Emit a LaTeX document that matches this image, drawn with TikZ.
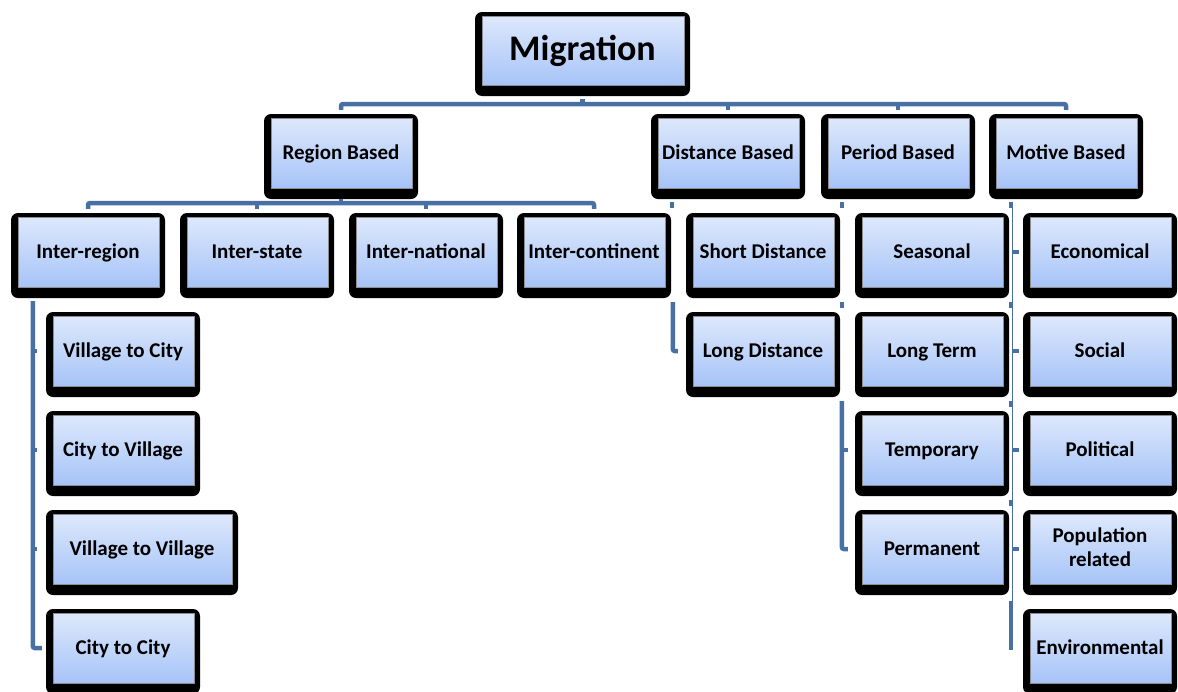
\documentclass[tikz,border=0pt]{standalone}
\usepackage{fontspec}
\newfontfamily\calfont{Carlito}
\usetikzlibrary{calc}
\definecolor{boxtop}{RGB}{224,234,252}
\definecolor{boxbot}{RGB}{158,190,247}
\definecolor{boxedge}{RGB}{140,140,145}
\definecolor{connc}{RGB}{72,112,163}
\tikzset{
  mbox/.style={rounded corners=7pt, fill=black, minimum width=154pt, minimum height=85pt,
    inner sep=0pt, align=center, text height=13.3pt, text depth=8pt,
    font=\calfont\bfseries\fontsize{21}{24}\selectfont,
    path picture={\shade[top color=boxtop,bottom color=boxbot,draw=boxedge,line width=0.8pt,sharp corners]
      ([xshift=7pt,yshift=-4pt]path picture bounding box.north west) rectangle
      ([xshift=-6pt,yshift=11pt]path picture bounding box.south east);}},
  conn/.style={draw=connc, line width=4.5pt},
  thinconn/.style={draw=connc, line width=1.2pt}
}
\begin{document}
\begin{tikzpicture}[x=1pt,y=-1pt]
\useasboundingbox (0,0) rectangle (1178,691);
% level 0
\node[mbox, minimum width=215pt, minimum height=84pt, text height=23pt, text depth=11pt,
      font=\calfont\bfseries\fontsize{36}{40}\selectfont] (mig) at (582.5,54) {Migration};
% level 1
\node[mbox] (region)   at (341,156.5)  {Region Based};
\node[mbox] (distance) at (728,156.5)  {Distance Based};
\node[mbox] (period)   at (898,156.5)  {Period Based};
\node[mbox] (motive)   at (1066,156.5) {Motive Based};
% row B
\node[mbox] (interregion)    at (88,255.5)   {Inter-region};
\node[mbox] (interstate)     at (257,255.5)  {Inter-state};
\node[mbox] (international)  at (426,255.5)  {Inter-national};
\node[mbox] (intercontinent) at (594,255.5)  {Inter-continent};
\node[mbox] (short)          at (763,255.5)  {Short Distance};
\node[mbox] (seasonal)       at (932,255.5)  {Seasonal};
\node[mbox] (economical)     at (1100,255.5) {Economical};
% row C
\node[mbox] (v2c)      at (123,354.5)  {Village to City};
\node[mbox] (longdist) at (763,354.5)  {Long Distance};
\node[mbox] (longterm) at (932,354.5)  {Long Term};
\node[mbox] (social)   at (1100,354.5) {Social};
% row D
\node[mbox] (c2v)       at (123,453.5)  {City to Village};
\node[mbox] (temporary) at (932,453.5)  {Temporary};
\node[mbox] (political) at (1100,453.5) {Political};
% row E
\node[mbox, minimum width=192pt] (v2v) at (142,552.5) {Village to Village};
\node[mbox] (permanent)  at (932,552.5)  {Permanent};
\node[mbox, text height=37.3pt, text depth=9pt] (population) at (1100,552.5) {Population\\related};
% row F
\node[mbox] (c2c) at (123,651.5)  {City to City};
\node[mbox] (env) at (1100,651.5) {Environmental};

% level 1 bus
\coordinate (bus1) at (583,104);
\draw[conn, rounded corners=2pt] ([yshift=4pt]region.north) |- (bus1) -| ([yshift=4pt]motive.north);
\draw[conn] ([yshift=-3pt]mig.south) -- (mig.south |- bus1);
\draw[conn] (distance.north |- bus1) -- ([yshift=4pt]distance.north);
\draw[conn] (period.north |- bus1) -- ([yshift=4pt]period.north);
% level 2 bus under Region Based
\coordinate (bus2) at (341,203);
\draw[conn, rounded corners=2pt] ([yshift=4pt]interregion.north) |- (bus2) -| ([yshift=4pt]intercontinent.north);
\draw[conn] (region.south) -- (region.south |- bus2);
\draw[conn] (interstate.north |- bus2) -- ([yshift=4pt]interstate.north);
\draw[conn] (international.north |- bus2) -- ([yshift=4pt]international.north);
% Inter-region children
\coordinate (sp1) at ([xshift=22pt,yshift=-3pt]interregion.south west);
\draw[conn, rounded corners=2pt] (sp1) |- ([xshift=-4pt,yshift=3.5pt]c2c.west);
\draw[conn] (sp1 |- v2c.west) ++(0,-3.5) -- ([xshift=-9pt,yshift=3.5pt]v2c.west);
\draw[conn] (sp1 |- c2v.west) ++(0,-3.5) -- ([xshift=-9pt,yshift=3.5pt]c2v.west);
\draw[conn] (sp1 |- v2v.west) ++(0,-3.5) -- ([xshift=-9pt,yshift=3.5pt]v2v.west);
% Distance Based
\draw[conn] ([xshift=21pt,yshift=-3pt]distance.south west) -- ++(0,6);
\draw[conn, rounded corners=2pt] ([xshift=-13pt,yshift=-4pt]short.south west) |- ([xshift=-8pt,yshift=3.5pt]longdist.west);
% Period Based
\draw[conn] ([xshift=21pt,yshift=-3pt]period.south west) -- ++(0,6);
\draw[conn] ([xshift=-13pt,yshift=-4pt]seasonal.south west) -- ++(0,6);
\coordinate (sp3) at ([xshift=-13pt,yshift=-4pt]longterm.south west);
\draw[conn, rounded corners=2pt] (sp3) |- ([xshift=-7pt,yshift=3.5pt]permanent.west);
\draw[conn] (sp3 |- temporary.west) ++(0,-3.5) -- ([xshift=-7pt,yshift=3.5pt]temporary.west);
% Motive Based
\coordinate (sp4) at ([xshift=24pt,yshift=-3pt]motive.south west);
\draw[thinconn] (sp4) -- ([xshift=-10pt,yshift=-12pt]population.south west);
\draw[conn] ([xshift=22pt,yshift=-3pt]motive.south west) -- ++(0,6);
\draw[conn] ([xshift=-12pt,yshift=-4pt]economical.south west) -- ++(0,6);
\draw[conn] ([xshift=-12pt,yshift=-4pt]social.south west) -- ++(0,6);
\draw[conn] ([xshift=-12pt,yshift=-4pt]political.south west) -- ++(0,6);
\draw[conn] ([xshift=-12pt,yshift=-6pt]population.south west) -- ++(0,49);
\draw[conn] (sp4 |- economical.west) ++(0,-3.5) -- ([xshift=-4pt,yshift=3.5pt]economical.west);
\draw[conn] (sp4 |- social.west) ++(0,-3.5) -- ([xshift=-4pt,yshift=3.5pt]social.west);
\draw[conn] (sp4 |- political.west) ++(0,-3.5) -- ([xshift=-4pt,yshift=3.5pt]political.west);
\draw[conn] (sp4 |- population.west) ++(0,-3.5) -- ([xshift=-4pt,yshift=3.5pt]population.west);
\end{tikzpicture}
\end{document}
